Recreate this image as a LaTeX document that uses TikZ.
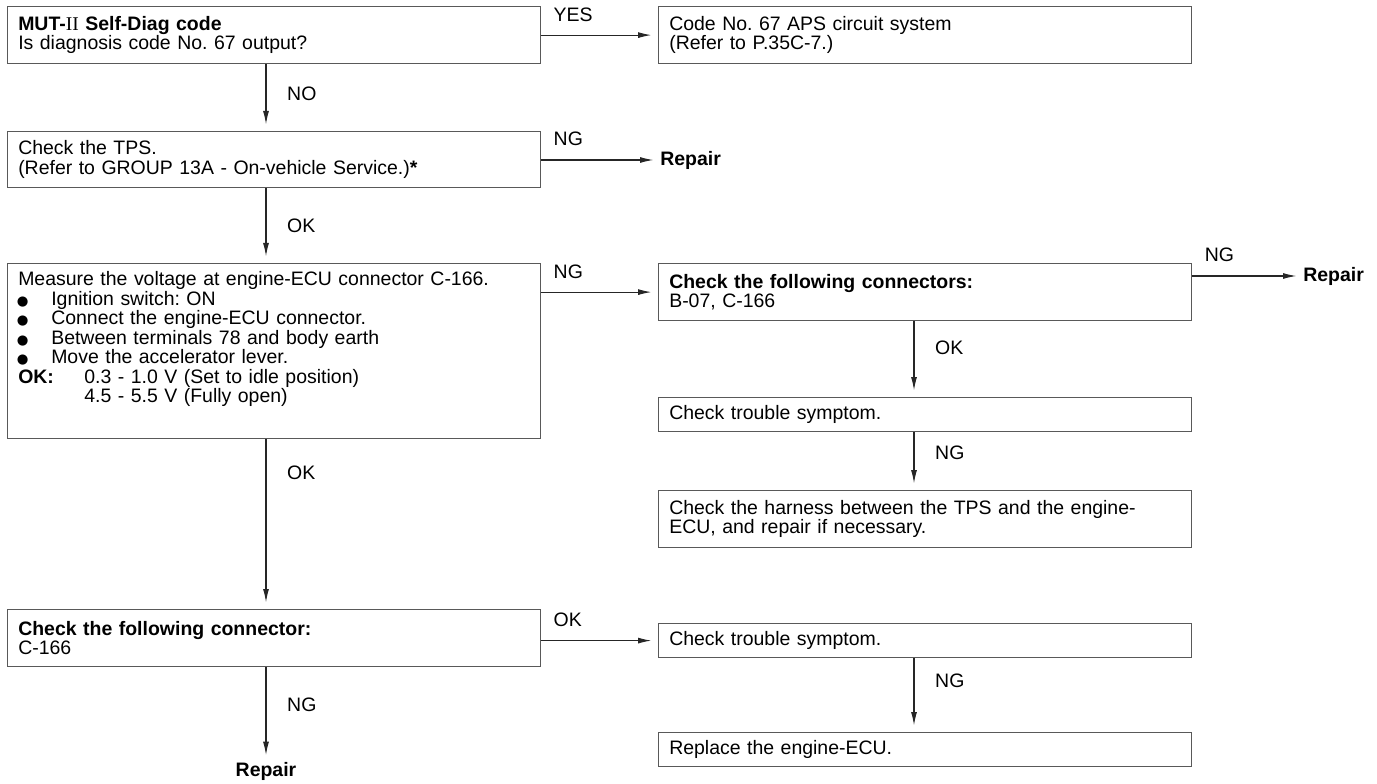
\documentclass[tikz,border=0pt]{standalone}
\usepackage{fontspec}
\setmainfont{Liberation Sans}
\newfontfamily\numeralfont{Liberation Serif}
\newfontfamily\dotfont{DejaVu Sans}
\usetikzlibrary{arrows.meta}
\frenchspacing
\newcommand{\flowfont}{\fontsize{14.6pt}{14.6pt}\selectfont}
% wider word gaps, set once on the regular and bold cuts
\newcommand{\widespace}{\fontdimen2\font=7.9pt \fontdimen3\font=2pt \fontdimen4\font=2.5pt\relax}
\AtBeginDocument{{\flowfont\widespace\bfseries\widespace}}
\newcommand{\bul}{\makebox[24.75pt][l]{\hspace{-1pt}{\dotfont\fontsize{10pt}{0pt}\selectfont ●}}}
\tikzset{
    stepbox/.style={draw=black!65, line width=0.9pt, rectangle, anchor=north west,
        text width=383.75pt, inner xsep=8pt, inner ysep=0pt, minimum height=#1},
    flowArrow/.style={-{Latex[length=10pt, width=4.5pt]}, draw=black!85, line width=0.8pt, shorten >=5pt},
    sideLabel/.style={anchor=west, inner sep=0pt, xshift=15.5pt},
    topLabel/.style={anchor=south west, inner xsep=9pt, inner ysep=10pt},
    endText/.style={inner sep=0pt, font=\flowfont\bfseries},
}
\newcommand{\linkRight}[3]{
    \draw[flowArrow] (#1) -- node[topLabel, pos=0] {#3} (#2);
}
\newcommand{\linkDown}[4]{
    % label sits right of the line, pos given by hand
    \draw[flowArrow] (#1) -- node[sideLabel, pos=#4] {#3} (#2);
}

\begin{document}
\begin{tikzpicture}[x=0.75pt, y=-0.75pt, font=\flowfont]

    \useasboundingbox (0,0) rectangle (1377,784);
    \coordinate (colL) at (266,0);
    \coordinate (colR) at (914,0);

    \node[stepbox=42.75pt] (diag) at (7,6) {\textbf{MUT-}{\numeralfont II}\textbf{ Self-Diag code}\\Is diagnosis code No. 67 output?};
    \node[stepbox=42.75pt] (aps) at (658,6) {Code No. 67 APS circuit system\\(Refer to P.35C-7.)};
    \node[stepbox=42pt] (tps) at (7,131) {Check the TPS.\\(Refer to GROUP 13A - On-vehicle Service.)\textbf{*}};
    % text starts at the top of this one
    \node[stepbox=131.25pt, inner ysep=6pt, text depth=108.5pt] (volt) at (7,263) {Measure the voltage at engine-ECU connector C-166.\\
        \bul Ignition switch: ON\\
        \bul Connect the engine-ECU connector.\\
        \bul Between terminals 78 and body earth\\
        \bul Move the accelerator lever.\\
        \makebox[49.5pt][l]{\textbf{OK:}}0.3 - 1.0 V (Set to idle position)\\
        \makebox[49.5pt][l]{}4.5 - 5.5 V (Fully open)};
    \node[stepbox=42.75pt] (conn) at (658,263) {\textbf{Check the following connectors:}\\B-07, C-166};
    \node[stepbox=25.5pt] (symA) at (658,397) {Check trouble symptom.};
    \node[stepbox=42.75pt] (harness) at (658,490) {Check the harness between the TPS and the engine-\\ECU, and repair if necessary.};
    \node[stepbox=42.75pt] (conn166) at (7,609) {\textbf{Check the following connector:}\\C-166};
    \node[stepbox=25.5pt] (symB) at (658,623) {Check trouble symptom.};
    \node[stepbox=25.5pt] (ecu) at (658,732) {Replace the engine-ECU.};

    \node[endText, anchor=west] (rep1) at (660,160) {Repair};
    \node[endText, anchor=west] (rep2) at (1303,276) {Repair};
    \node[endText] (rep3) at (266,771) {Repair};

    \linkRight{diag.east}{aps.west}{YES}
    \linkRight{tps.east |- rep1.west}{rep1.west}{NG}
    \linkRight{volt.east |- conn.west}{conn.west}{NG}
    \linkRight{conn.east |- rep2.west}{rep2.west}{NG}
    \linkRight{conn166.east |- symB.west}{symB.west}{OK}

    \linkDown{diag.south -| colL}{tps.north -| colL}{NO}{0.45}
    \linkDown{tps.south -| colL}{volt.north -| colL}{OK}{0.5}
    \linkDown{volt.south -| colL}{conn166.north -| colL}{OK}{0.2}
    \linkDown{conn166.south -| colL}{rep3.north}{NG}{0.4}
    \linkDown{conn.south -| colR}{symA.north -| colR}{OK}{0.35}
    \linkDown{symA.south -| colR}{harness.north -| colR}{NG}{0.35}
    \linkDown{symB.south -| colR}{ecu.north -| colR}{NG}{0.3}

\end{tikzpicture}
\end{document}
